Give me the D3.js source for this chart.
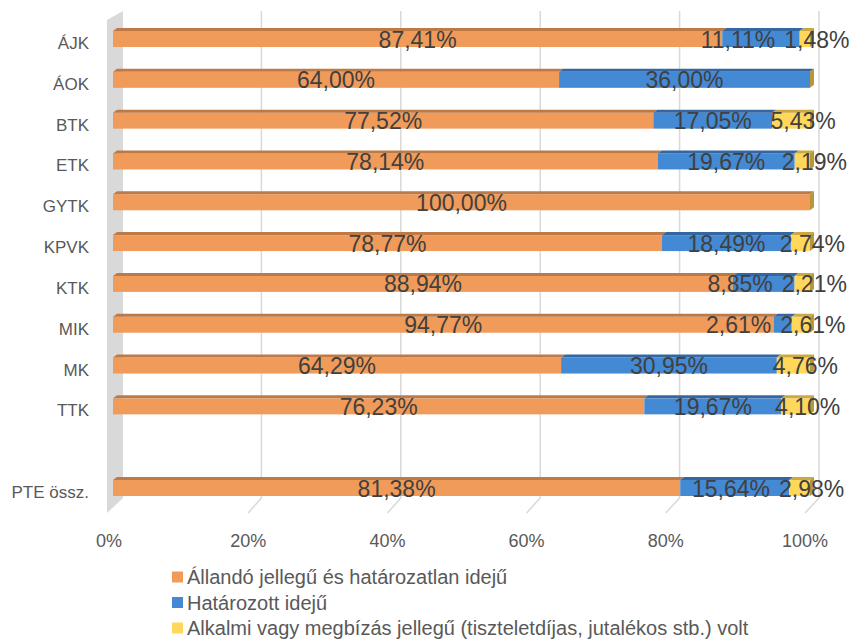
<!DOCTYPE html>
<html><head><meta charset="utf-8">
<script src="https://cdn.jsdelivr.net/npm/d3@7"></script>
<style>html,body{margin:0;padding:0;background:#fff;}svg{display:block;}</style>
</head><body>
<svg id="c" width="853" height="641"></svg>
<script>
const categories = ["ÁJK","ÁOK","BTK","ETK","GYTK","KPVK","KTK","MIK","MK","TTK","","PTE össz."];
const allando   = [87.41, 64.00, 77.52, 78.14, 100.00, 78.77, 88.94, 94.77, 64.29, 76.23, null, 81.38];
const hatarozott= [11.11, 36.00, 17.05, 19.67, 0, 18.49, 8.85, 2.61, 30.95, 19.67, null, 15.64];
const alkalmi   = [1.48, 0, 5.43, 2.19, 0, 2.74, 2.21, 2.61, 4.76, 4.10, null, 2.98];
const ticks = [0, 20, 40, 60, 80, 100];
const seriesNames = ["Állandó jellegű és határozatlan idejű","Határozott idejű","Alkalmi vagy megbízás jellegű (tiszteletdíjas, jutalékos stb.) volt"];

const colors = ["#F09B5A","#4489D4","#FFD75A"];
const topColors = ["#BE7A46","#3467A2","#CBA93E"];
const sideColor = "#B8963A";

const svg = d3.select("#c");
const font = "'Liberation Sans', Arial, sans-serif";

const xFront = d3.scaleLinear().domain([0,100]).range([109,805]);
const xBack  = d3.scaleLinear().domain([0,100]).range([122,819]);
const xBar   = d3.scaleLinear().domain([0,100]).range([113,810]);
const y = d3.scalePoint().domain(categories).range([39,488]);
const barH = 16, dx = 4, dy = 3;
const backTop = 11, backBottom = 498, frontBottom = 513, wallFrontTop = 20;

// left wall
svg.append("polygon")
  .attr("points", [[xFront(0)-2,wallFrontTop],[xBack(0)+1,backTop],[xBack(0)+1,backBottom],[xFront(0)-2,frontBottom]].map(p=>p.join(",")).join(" "))
  .attr("fill","#d9d9d9");

// gridlines
ticks.forEach(t=>{
  if(t===0) return;
  svg.append("polyline")
    .attr("points", [[xBack(t),backTop],[xBack(t),backBottom],[xFront(t),frontBottom]].map(p=>p.join(",")).join(" "))
    .attr("fill","none").attr("stroke","#d9d9d9").attr("stroke-width",1.5);
});

// bars
const rows = categories.map((c,i)=>({c, vals:[allando[i],hatarozott[i],alkalmi[i]]})).filter(r=>r.c!=="");
const gBars = svg.append("g");
rows.forEach(r=>{
  const cy = y(r.c), top = cy - barH/2;
  let acc = 0;
  const segs = r.vals.map((v,k)=>{ const s={k, a:acc, b:acc+v, v}; acc+=v; return s; });
  segs.forEach(s=>{
    if(s.v<=0) return;
    gBars.append("rect").attr("x",xBar(s.a)).attr("y",top).attr("width",xBar(s.b)-xBar(s.a)).attr("height",barH).attr("fill",colors[s.k]);
    gBars.append("polygon")
      .attr("points",[[xBar(s.a),top],[xBar(s.b),top],[xBar(s.b)+dx,top-dy],[xBar(s.a)+dx,top-dy]].map(p=>p.join(",")).join(" "))
      .attr("fill",topColors[s.k]);
  });
  const xe = xBar(acc);
  gBars.append("polygon")
    .attr("points",[[xe,top],[xe+dx,top-dy],[xe+dx,top+barH-dy],[xe,top+barH]].map(p=>p.join(",")).join(" "))
    .attr("fill",sideColor);
  r.segs = segs;
});

// data labels
const gLab = svg.append("g").attr("font-family",font).attr("font-size",23).attr("fill","#404040");
const fmt = v => v.toFixed(2).replace(".",",") + "%";
const yellowShift = 12, gap = 9;
rows.forEach(r=>{
  const labs = r.segs.filter(s=>s.v>0).map(s=>{
    const t = gLab.append("text").attr("text-anchor","middle").attr("y",y(r.c)+8.5).text(fmt(s.v));
    const w = t.node().getComputedTextLength();
    let cx = xBar((s.a+s.b)/2) + (s.k===2 ? yellowShift : 0);
    return {t,w,cx};
  });
  for(let i=labs.length-2;i>=0;i--){
    const maxRight = labs[i+1].cx - labs[i+1].w/2 - gap;
    if(labs[i].cx + labs[i].w/2 > maxRight) labs[i].cx = maxRight - labs[i].w/2;
  }
  labs.forEach(l=>l.t.attr("x",l.cx));
});

// category labels
const gCat = svg.append("g").attr("font-family",font).attr("font-size",17).attr("fill","#595959");
rows.forEach(r=>{
  gCat.append("text").attr("x",89).attr("y",y(r.c)+10).attr("text-anchor","end").text(r.c);
});

// x tick labels
const gX = svg.append("g").attr("font-family",font).attr("font-size",18).attr("fill","#595959");
ticks.forEach(t=>{
  gX.append("text").attr("x",xFront(t)).attr("y",547).attr("text-anchor","middle").text(t+"%");
});

// legend
const gL = svg.append("g").attr("font-family",font).attr("font-size",20).attr("fill","#595959");
seriesNames.forEach((n,i)=>{
  const ly = 577 + i*25.5;
  gL.append("rect").attr("x",172).attr("y",ly-5.5).attr("width",11).attr("height",11).attr("fill",colors[i]);
  gL.append("text").attr("x",187).attr("y",ly+7).text(n);
});
</script>
</body></html>
